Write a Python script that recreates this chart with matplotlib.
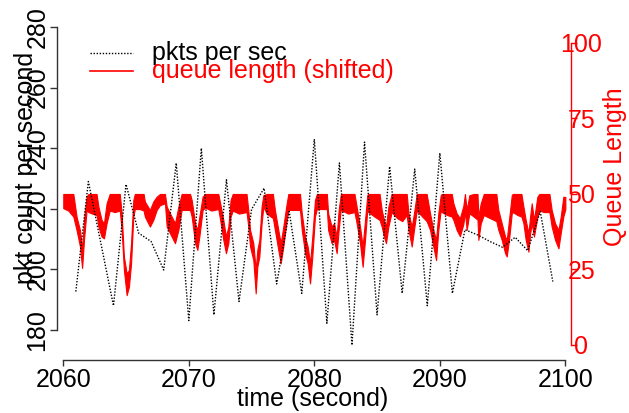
import matplotlib
matplotlib.use('Agg')
import matplotlib.pyplot as plt
from matplotlib.lines import Line2D

# packets per second (left axis), one reading per second
pkt_time = [2061, 2062, 2063, 2064, 2065, 2066, 2067, 2068, 2069, 2070,
            2071, 2072, 2073, 2074, 2075, 2076, 2077, 2078, 2079, 2080,
            2081, 2082, 2083, 2084, 2085, 2086, 2087, 2088, 2089, 2090,
            2091, 2092, 2093, 2094, 2095, 2096, 2097, 2098, 2099]
pkt_rate = [192.7, 229.0, 208.5, 188.0, 228.1, 212.0, 209.2, 199.8, 235.1, 183.1,
            240.0, 185.0, 229.6, 189.4, 219.8, 226.8, 195.2, 219.1, 192.1, 243.0,
            182.2, 235.1, 175.0, 242.0, 185.0, 234.0, 192.1, 233.1, 188.0, 238.4,
            192.1, 213.1, 211.4, 209.2, 207.3, 210.6, 206.2, 219.1, 196.0]

# queue length (right axis): lower and upper edge of the noisy band
queue_time = [2060.0, 2060.4, 2060.8, 2061.06, 2061.33, 2061.5, 2061.65, 2061.86, 2062.0, 2062.3,
              2062.65, 2062.8, 2063.05, 2063.24, 2063.45, 2063.7, 2064.1, 2064.5, 2064.65, 2064.83,
              2065.05, 2065.23, 2065.4, 2065.58, 2065.7, 2066.1, 2066.4, 2066.5, 2066.9, 2067.17,
              2067.44, 2067.7, 2068.1, 2068.24, 2068.5, 2068.9, 2069.17, 2069.43, 2069.8, 2070.1,
              2070.23, 2070.5, 2070.68, 2070.84, 2071.1, 2071.3, 2071.8, 2072.35, 2072.5, 2072.75,
              2072.96, 2073.15, 2073.33, 2073.5, 2074.0, 2074.6, 2074.74, 2074.88, 2075.14, 2075.33,
              2075.46, 2075.62, 2075.8, 2075.94, 2076.2, 2076.7, 2076.86, 2077.13, 2077.32, 2077.53,
              2077.8, 2077.93, 2078.4, 2078.86, 2079.0, 2079.26, 2079.47, 2079.66, 2079.84, 2080.05,
              2080.2, 2081.0, 2081.1, 2081.38, 2081.57, 2081.78, 2081.94, 2082.1, 2082.2, 2082.7,
              2083.2, 2083.37, 2083.64, 2083.85, 2084.04, 2084.22, 2084.3, 2084.8, 2085.2, 2085.37,
              2085.55, 2085.71, 2085.9, 2086.16, 2086.6, 2087.0, 2087.36, 2087.5, 2087.76, 2087.94,
              2088.16, 2088.6, 2088.95, 2089.22, 2089.48, 2089.7, 2089.88, 2090.07, 2090.15, 2090.6,
              2090.95, 2091.08, 2091.34, 2091.6, 2091.87, 2092.0, 2092.14, 2092.35, 2092.7, 2093.0,
              2093.07, 2093.26, 2093.5, 2094.0, 2094.5, 2094.66, 2094.93, 2095.2, 2095.33, 2095.54,
              2095.73, 2095.8, 2096.2, 2096.5, 2096.66, 2096.84, 2097.06, 2097.19, 2097.32, 2097.5,
              2097.77, 2097.93, 2098.3, 2098.73, 2098.91, 2099.18, 2099.45, 2099.63, 2099.84, 2100.0]
queue_low = [45.3, 44.5, 42.5, 38.0, 32.6, 25.5, 34.8, 44.7, 44.0, 43.5,
             43.0, 39.2, 35.9, 35.3, 40.3, 44.5, 44.0, 44.5, 38.0, 24.8,
             16.5, 19.3, 27.0, 42.5, 45.0, 45.0, 44.5, 42.5, 39.2, 41.4,
             44.7, 46.3, 46.9, 39.2, 37.0, 33.7, 38.1, 44.7, 44.7, 44.7,
             42.5, 33.7, 31.5, 35.9, 44.7, 45.5, 44.5, 45.0, 41.4, 34.8,
             30.4, 33.7, 42.5, 44.5, 43.5, 44.0, 39.2, 32.6, 28.1, 17.1,
             25.9, 29.3, 40.3, 45.8, 43.5, 42.0, 38.1, 31.5, 27.0, 32.6,
             41.4, 44.7, 44.7, 44.7, 38.1, 30.4, 27.0, 20.4, 29.3, 42.5,
             45.0, 45.0, 38.1, 33.7, 34.8, 30.4, 38.1, 44.7, 44.5, 43.5,
             44.0, 40.3, 33.7, 25.9, 34.8, 44.7, 44.0, 42.5, 41.4, 39.2,
             35.9, 33.7, 39.2, 44.0, 42.0, 41.0, 43.0, 38.1, 32.6, 38.1,
             44.5, 42.5, 41.0, 38.1, 32.6, 28.1, 38.1, 44.7, 44.0, 43.0,
             42.5, 41.4, 38.1, 36.0, 40.0, 44.0, 38.1, 43.6, 42.5, 41.5,
             34.8, 40.3, 43.0, 42.0, 41.0, 38.1, 34.8, 30.4, 29.3, 35.9,
             43.6, 44.0, 43.0, 42.5, 40.3, 34.8, 30.9, 36.9, 40.3, 35.9,
             42.5, 44.5, 44.0, 44.0, 39.2, 34.8, 32.0, 37.0, 42.5, 45.0]
queue_high = [50, 50, 50, 42.5, 38.0, 31.5, 41.4, 49.1, 50, 50,
              50, 45.8, 41.4, 40.3, 46.9, 50, 50, 50, 43.6, 29.3,
              23.7, 24.8, 33.7, 48.0, 50, 50, 50, 47.5, 44.7, 47.5,
              49.1, 50, 50, 45.8, 43.6, 40.3, 45.8, 50, 50, 50,
              48.0, 40.3, 38.1, 42.5, 49.1, 50, 50, 50, 46.9, 41.4,
              35.9, 39.2, 48.0, 50, 50, 50, 44.7, 38.1, 33.7, 24.8,
              31.5, 34.8, 45.8, 49.6, 50, 50, 44.7, 38.1, 33.7, 39.2,
              46.9, 50, 50, 50, 43.6, 35.9, 32.6, 27.0, 35.9, 48.0,
              50, 50, 43.6, 39.2, 40.3, 35.9, 44.7, 49.6, 50, 50,
              50, 45.8, 39.2, 32.6, 41.4, 49.6, 50, 50, 50, 44.7,
              41.4, 39.2, 45.8, 50, 50, 50, 50, 43.6, 39.2, 43.6,
              50, 50, 50, 43.6, 38.1, 34.8, 43.6, 49.6, 50, 50,
              50, 46.9, 43.6, 42.0, 46.0, 50, 44.7, 49.6, 50, 50,
              42.5, 46.9, 50, 50, 50, 44.7, 40.3, 35.9, 34.8, 42.5,
              49.6, 50, 50, 50, 45.8, 41.4, 36.9, 42.5, 46.9, 41.4,
              49.1, 50, 50, 50, 44.7, 40.3, 38.1, 42.5, 49.1, 49.0]

time_ticks = [2060, 2070, 2080, 2090, 2100]
pkt_ticks = [180, 200, 220, 240, 260, 280]
queue_ticks = [0, 25, 50, 75, 100]

W, H = 629, 413
FS = 18


def fx(x):
  return x / W


def fy(y):
  return 1 - y / H


def draw_chart():
  plt.rcParams['font.family'] = ['Liberation Sans', 'DejaVu Sans']
  fig = plt.figure(figsize=(W / 100, H / 100), dpi=100)

  left, right, bottom, top = 57, 571, 360, 20
  ax_p = fig.add_axes([fx(left), fy(bottom), (right - left) / W, (bottom - top) / H])
  ax_q = ax_p.twinx()
  ax_p.set_zorder(ax_q.get_zorder() + 1)
  ax_p.patch.set_visible(False)

  # red queue band on the right axis
  ax_q.fill_between(queue_time, queue_low, queue_high, color='red', lw=0.8)
  ax_q.set_ylim(-4.97, 107.6)

  # dotted packet rate on the left axis
  ax_p.plot(pkt_time, pkt_rate, color='black', lw=1.0, linestyle=(0, (1, 1.2)))
  ax_p.set_xlim(2059.5, 2100.45)
  ax_p.set_ylim(170.1, 282.3)

  axis_col = '#333333'
  for side in ['top', 'right']:
    ax_p.spines[side].set_visible(False)
  ax_p.spines['left'].set_bounds(pkt_ticks[0], pkt_ticks[-1])
  ax_p.spines['bottom'].set_bounds(time_ticks[0], time_ticks[-1])
  for side in ['left', 'bottom']:
    ax_p.spines[side].set_color(axis_col)
    ax_p.spines[side].set_linewidth(1.0)
  for side in ['top', 'left', 'bottom']:
    ax_q.spines[side].set_visible(False)
  ax_q.spines['right'].set_bounds(queue_ticks[0], queue_ticks[-1])
  ax_q.spines['right'].set_color('red')
  ax_q.spines['right'].set_linewidth(1.0)

  ax_p.set_xticks(time_ticks)
  ax_p.set_yticks(pkt_ticks)
  ax_q.set_yticks(queue_ticks)
  ax_p.tick_params(axis='x', length=4.5, width=1, color=axis_col, pad=1.5, labelsize=FS)
  ax_p.tick_params(axis='y', length=5, width=1, color=axis_col, pad=0.5, labelsize=FS)
  ax_q.tick_params(axis='y', length=4, width=1, colors='red', pad=3.5, labelsize=FS)
  for lab in ax_p.get_yticklabels():
    lab.set_rotation(90)
    lab.set_va('center')
    lab.set_ha('right')
  for lab in ax_q.get_yticklabels():
    lab.set_ha('center')

  # axis titles
  fig.text(fx(313), fy(406), 'time (second)', fontsize=FS, ha='center', va='baseline')
  fig.text(fx(33), fy(168), 'pkt count per second', fontsize=FS, rotation=90,
           rotation_mode='anchor', ha='center', va='baseline')
  fig.text(fx(622), fy(167), 'Queue Length', fontsize=FS, color='red', rotation=90,
           rotation_mode='anchor', ha='center', va='baseline')

  # legend
  fig.add_artist(Line2D([fx(90), fx(133)], [fy(53), fy(53)], color='black', lw=1.0,
                        linestyle=(0, (1, 1.2))))
  fig.add_artist(Line2D([fx(90), fx(133)], [fy(71), fy(71)], color='red', lw=1.2))
  fig.text(fx(152), fy(60), 'pkts per sec', fontsize=FS, va='baseline')
  fig.text(fx(152), fy(78), 'queue length (shifted)', fontsize=FS, color='red', va='baseline')

  fig.savefig('out.png', dpi=100)


if __name__ == '__main__':
  draw_chart()
